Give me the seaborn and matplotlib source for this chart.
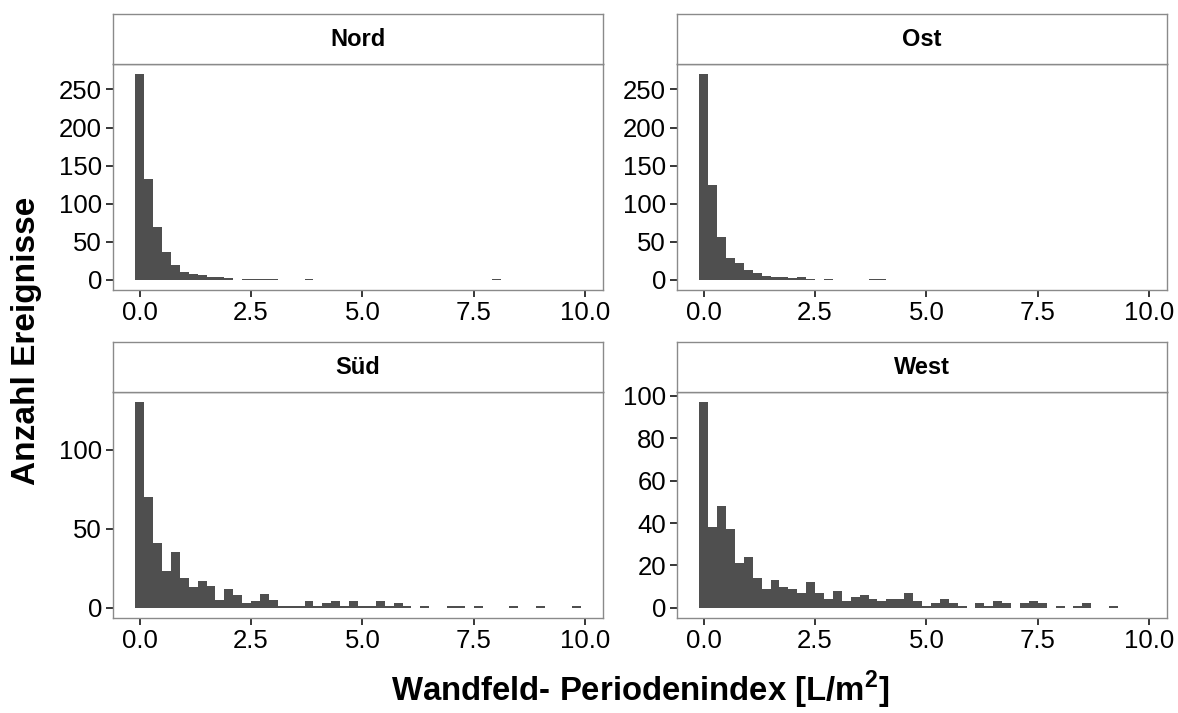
import numpy as np
import pandas as pd
import matplotlib
matplotlib.use("Agg")
import matplotlib.pyplot as plt
import seaborn as sns

# ---------------- data (counts per bin, bin width 0.2, centres 0.0 .. 9.8) ----------------
regions = ["Nord", "Ost", "Süd", "West"]
bin_width = 0.2
n_bins = 50

nord_counts = [270, 133, 69, 36, 19, 10, 8, 6, 4, 3,
               2, 0, 1, 1, 1, 1, 0, 0, 0, 1,
               0, 0, 0, 0, 0, 0, 0, 0, 0, 0,
               0, 0, 0, 0, 0, 0, 0, 0, 0, 0,
               1, 0, 0, 0, 0, 0, 0, 0, 0, 0]
ost_counts = [270, 125, 56, 29, 22, 13, 9, 5, 4, 3,
              2, 3, 1, 0, 1, 0, 0, 0, 0, 1,
              1, 0, 0, 0, 0, 0, 0, 0, 0, 0,
              0, 0, 0, 0, 0, 0, 0, 0, 0, 0,
              0, 0, 0, 0, 0, 0, 0, 0, 0, 0]
sued_counts = [130, 70, 41, 23, 35, 19, 13, 17, 14, 5,
               12, 8, 3, 4, 9, 5, 1, 1, 1, 4,
               1, 3, 4, 1, 4, 1, 1, 4, 1, 3,
               1, 0, 1, 0, 0, 1, 1, 0, 1, 0,
               0, 0, 1, 0, 0, 1, 0, 0, 0, 1]
west_counts = [97, 38, 48, 37, 21, 24, 14, 9, 13, 10,
               9, 7, 12, 7, 4, 8, 3, 5, 6, 4,
               3, 4, 4, 7, 3, 1, 2, 4, 2, 1,
               0, 2, 1, 3, 2, 0, 2, 3, 2, 0,
               1, 0, 1, 2, 0, 0, 1, 0, 0, 0]

x_ticks = [0.0, 2.5, 5.0, 7.5, 10.0]
x_tick_labels = ["0.0", "2.5", "5.0", "7.5", "10.0"]
y_ticks = {"Nord": [0, 50, 100, 150, 200, 250],
           "Ost": [0, 50, 100, 150, 200, 250],
           "Süd": [0, 50, 100],
           "West": [0, 20, 40, 60, 80, 100]}

counts = {"Nord": nord_counts, "Ost": ost_counts, "Süd": sued_counts, "West": west_counts}
centers = np.round(np.arange(n_bins) * bin_width, 2)

df = pd.concat([pd.DataFrame({"Region": r, "Index": centers,
                              "Anzahl": np.asarray(counts[r], dtype=float)})
                for r in regions], ignore_index=True)

# ---------------- style ----------------
sns.set_theme(style="white")
plt.rcParams["font.family"] = ["Liberation Sans", "DejaVu Sans"]
plt.rcParams["mathtext.fontset"] = "custom"
plt.rcParams["mathtext.rm"] = "Liberation Sans"
plt.rcParams["mathtext.bf"] = "Liberation Sans:bold"

W, H = 1178, 713
fig = plt.figure(figsize=(W / 100, H / 100), dpi=100)
fig.patch.set_facecolor("white")

def fx(px):
    return px / W

def fy(py):
    return 1 - py / H

border_col = "#8a8a8a"
strip_line = "#707070"
bar_col = "#4f4f4f"

panel_x = {"Nord": (113, 603), "Ost": (677, 1167), "Süd": (113, 603), "West": (677, 1167)}
panel_y = {"Nord": (64, 290), "Ost": (64, 290), "Süd": (392, 618), "West": (392, 618)}
strip_h = 50

for r in regions:
    x0, x1 = panel_x[r]
    y0, y1 = panel_y[r]
    ax = fig.add_axes([fx(x0), fy(y1), fx(x1 - x0), (y1 - y0) / H])
    sub = df[df["Region"] == r].reset_index(drop=True)
    sns.histplot(data=sub, x="Index", weights="Anzahl", binwidth=bin_width,
                 binrange=(-bin_width / 2, (n_bins - 0.5) * bin_width), ax=ax,
                 color=bar_col, edgecolor="none", linewidth=0, alpha=1.0)
    ymax = max(counts[r])
    ax.set_xlim(-0.6, 10.4)
    ax.set_ylim(-0.05 * ymax, 1.05 * ymax)
    ax.set_xticks(x_ticks)
    ax.set_xticklabels(x_tick_labels)
    ax.set_yticks(y_ticks[r])
    ax.set_xlabel("")
    ax.set_ylabel("")
    ax.grid(False)
    for s in ax.spines.values():
        s.set_color(border_col)
        s.set_linewidth(1.0)
    ax.spines["top"].set_color(strip_line)
    ax.tick_params(axis="both", which="major", length=5, width=1.1, color="black",
                   labelsize=18.5, labelcolor="black", pad=3, bottom=True, left=True)

    sax = fig.add_axes([fx(x0), fy(y0), fx(x1 - x0), strip_h / H])
    sax.set_facecolor("white")
    sax.set_xticks([])
    sax.set_yticks([])
    for s in sax.spines.values():
        s.set_color(border_col)
        s.set_linewidth(1.0)
    sax.text(0.5, 0.5, r, ha="center", va="center", fontsize=17, fontweight="bold",
             color="black", transform=sax.transAxes)

fig.text(fx(27), fy(341), "Anzahl Ereignisse", rotation=90, ha="center", va="center",
         fontsize=24, fontweight="bold", color="black")
fig.text(fx(640), fy(690), r"Wandfeld- Periodenindex [L/m$^\mathbf{2}$]", ha="center",
         va="center", fontsize=23.7, fontweight="bold", color="black")

fig.savefig("out.png", dpi=100, facecolor="white")
